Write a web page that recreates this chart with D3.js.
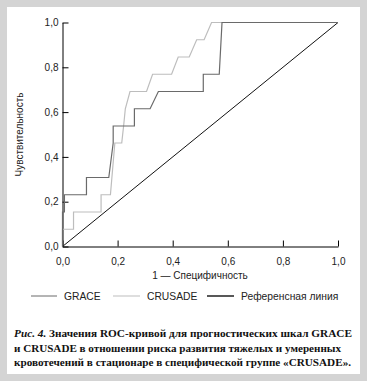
<!DOCTYPE html>
<html><head><meta charset="utf-8">
<script src="https://cdn.jsdelivr.net/npm/d3@7"></script>
<style>body{margin:0;padding:0;background:#fff}svg{display:block}</style>
</head><body>
<svg id="c" width="367" height="381"></svg>
<script>
const xTicks = [0, 0.2, 0.4, 0.6, 0.8, 1.0];
const yTicks = [0, 0.2, 0.4, 0.6, 0.8, 1.0];
const graceFpr = [0, 0, 0.007, 0.007, 0.087, 0.087, 0.168, 0.184, 0.184, 0.261, 0.261, 0.318, 0.348, 0.511, 0.511, 0.569, 0.579, 1.0];
const graceTpr = [0, 0.154, 0.154, 0.231, 0.231, 0.308, 0.308, 0.462, 0.538, 0.538, 0.615, 0.615, 0.692, 0.692, 0.769, 0.769, 1.0, 1.0];
const crusadeFpr = [0, 0, 0.04, 0.04, 0.14, 0.14, 0.174, 0.19, 0.215, 0.222, 0.228, 0.245, 0.305, 0.327, 0.396, 0.42, 0.46, 0.487, 0.514, 0.541, 1.0];
const crusadeTpr = [0, 0.077, 0.077, 0.154, 0.154, 0.231, 0.231, 0.462, 0.462, 0.54, 0.615, 0.692, 0.692, 0.769, 0.769, 0.846, 0.846, 0.923, 0.923, 1.0, 1.0];
const refFpr = [0, 1];
const refTpr = [0, 1];
const seriesNames = ["GRACE", "CRUSADE", "Референсная линия"];
const xTitle = "1 — Специфичность";
const yTitle = "Чувствительность";
const captionLines = [
  ["Рис. 4.", " Значения ROC-кривой для прогностических шкал GRACE"],
  ["", "и CRUSADE в отношении риска развития тяжелых и умеренных"],
  ["", "кровотечений в стационаре в специфической группе «CRUSADE»."]
];
const captionWidths = [338, 327, 337];

const svg = d3.select("#c");
svg.append("rect").attr("width", 367).attr("height", 381).attr("fill", "#d4d4d4");
svg.append("rect").attr("x", 7).attr("y", 7).attr("width", 353).attr("height", 367).attr("fill", "#fff");

const x = d3.scaleLinear().domain([0, 1]).range([62.5, 338]);
const y = d3.scaleLinear().domain([0, 1]).range([246.5, 22.5]);
const fmt = d => d3.format(".1f")(d).replace(".", ",");
const axFont = "'Liberation Sans', Arial, sans-serif";

const gx = svg.append("g").attr("transform", `translate(0,${y(0)})`)
  .call(d3.axisBottom(x).tickValues(xTicks).tickFormat(fmt).tickSizeInner(-6).tickSizeOuter(0).tickPadding(11));
const gy = svg.append("g").attr("transform", `translate(${x(0)},0)`)
  .call(d3.axisLeft(y).tickValues(yTicks).tickFormat(fmt).tickSizeInner(-6).tickSizeOuter(0).tickPadding(4));
[gx, gy].forEach(g => {
  g.select(".domain").attr("stroke", "#000").attr("stroke-width", 1);
  g.selectAll(".tick line").attr("stroke", "#000");
  g.selectAll("text").attr("font-family", axFont).attr("font-size", 10).attr("fill", "#222");
});

const line = d3.line().x(d => x(d[0])).y(d => y(d[1]));
const mk = (a, b) => a.map((v, i) => [v, b[i]]);
svg.append("path").datum(mk(refFpr, refTpr)).attr("d", line).attr("fill", "none").attr("stroke", "#111").attr("stroke-width", 1);
svg.append("path").datum(mk(crusadeFpr, crusadeTpr)).attr("d", line).attr("fill", "none").attr("stroke", "#bdbdbd").attr("stroke-width", 1.2);
svg.append("path").datum(mk(graceFpr, graceTpr)).attr("d", line).attr("fill", "none").attr("stroke", "#6a6a6a").attr("stroke-width", 1.2);

svg.append("text").attr("x", 200).attr("y", 279).attr("text-anchor", "middle")
  .attr("font-family", axFont).attr("font-size", 10).attr("fill", "#222").text(xTitle);
svg.append("text").attr("transform", `translate(23,${y(0.5)}) rotate(-90)`).attr("text-anchor", "middle")
  .attr("font-family", axFont).attr("font-size", 10).attr("fill", "#222").text(yTitle);

// legend
const legItems = [
  {name: seriesNames[0], color: "#6a6a6a", w: 1, x1: 31, x2: 57, tx: 64},
  {name: seriesNames[1], color: "#bdbdbd", w: 1, x1: 113, x2: 140, tx: 147},
  {name: seriesNames[2], color: "#111", w: 1.4, x1: 207, x2: 234, tx: 241}
];
const lg = svg.append("g");
legItems.forEach(d => {
  lg.append("line").attr("x1", d.x1).attr("x2", d.x2).attr("y1", 296).attr("y2", 296)
    .attr("stroke", d.color).attr("stroke-width", d.w);
  lg.append("text").attr("x", d.tx).attr("y", 299.5).attr("font-family", axFont).attr("font-size", 10.3)
    .attr("fill", "#222").text(d.name);
});

const cap = svg.append("g");
captionLines.forEach((l, i) => {
  const t = cap.append("text").attr("x", 14).attr("y", 337 + i * 14.5)
    .attr("font-family", "'Liberation Serif', 'Times New Roman', serif").attr("font-size", 11.1)
    .attr("font-weight", "bold").attr("fill", "#111")
    .attr("textLength", captionWidths[i]).attr("lengthAdjust", "spacingAndGlyphs");
  if (l[0]) t.append("tspan").attr("font-style", "italic").text(l[0]);
  t.append("tspan").text(l[1]);
});
</script>
</body></html>
